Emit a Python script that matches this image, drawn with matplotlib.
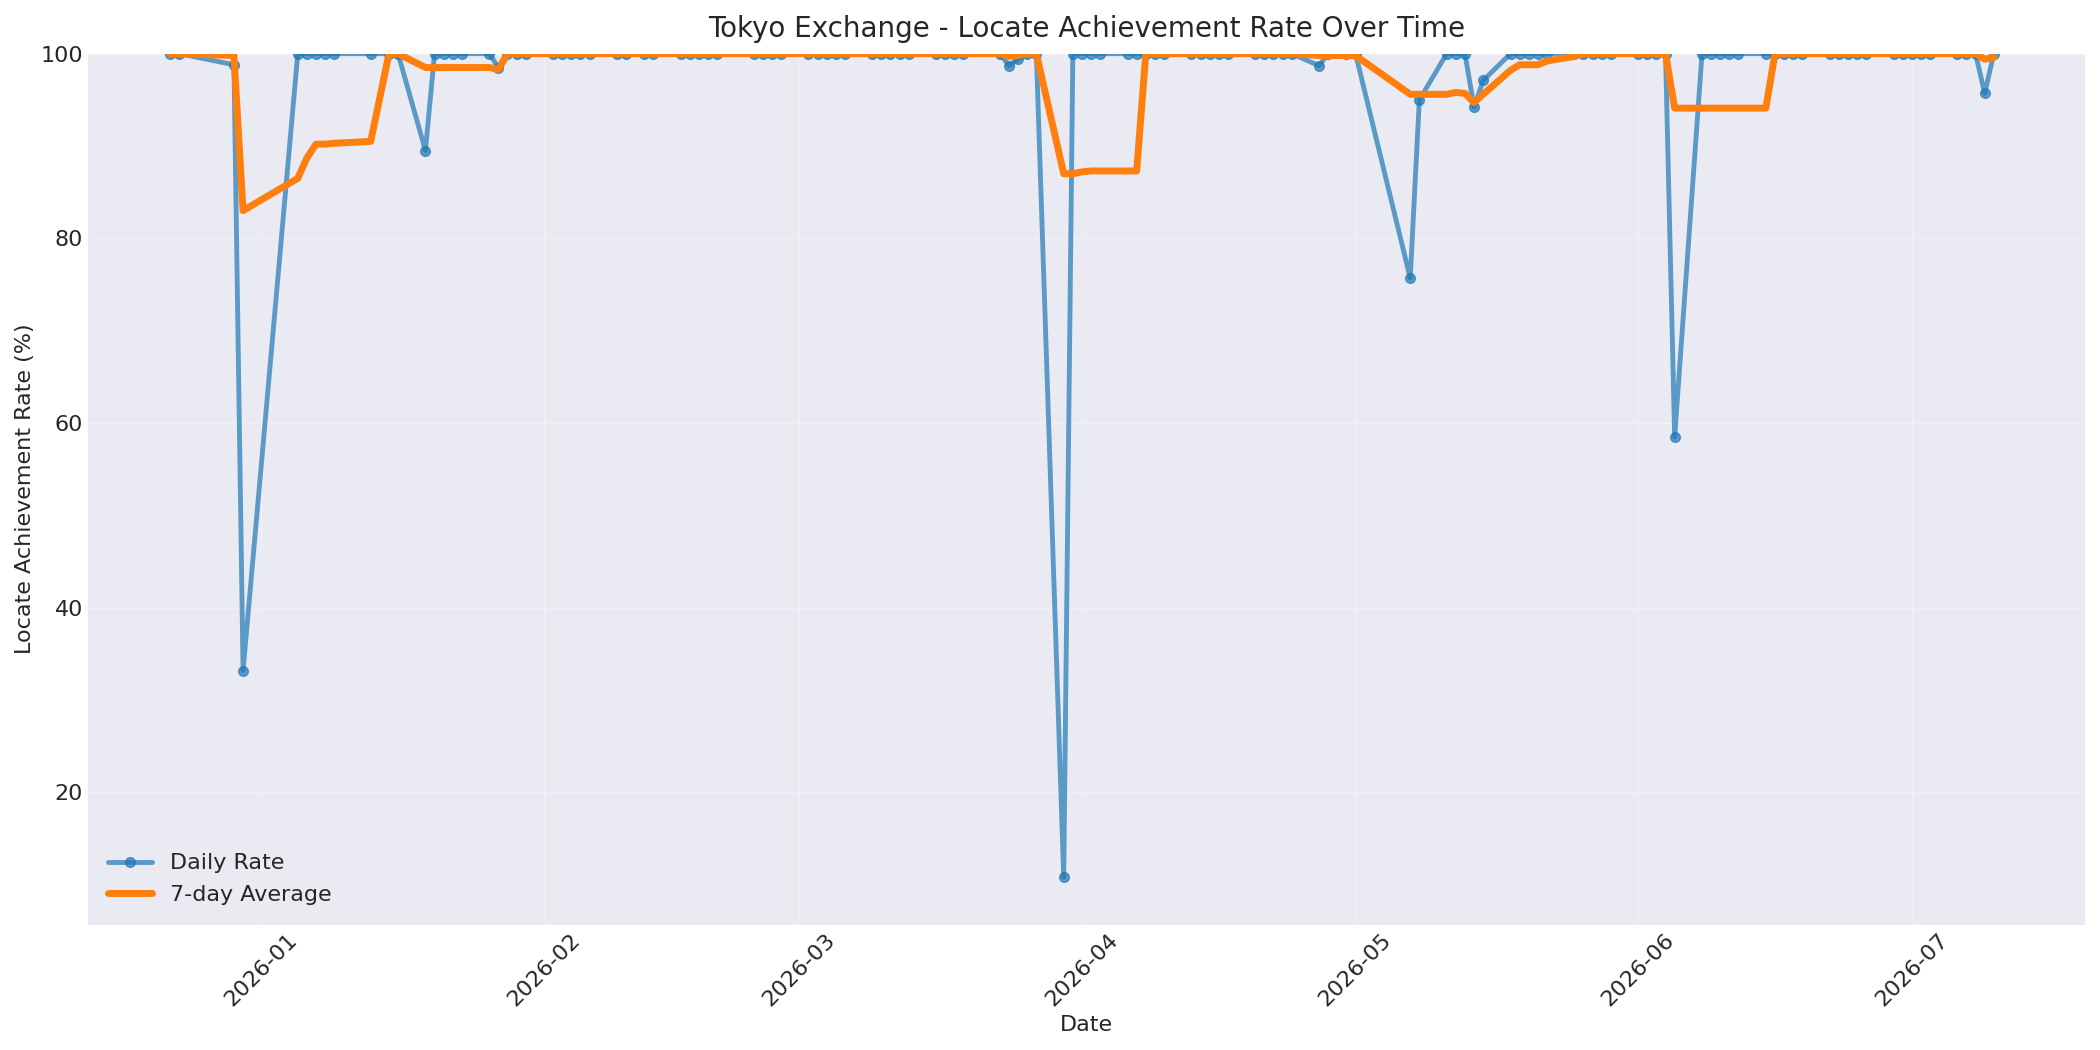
import matplotlib
matplotlib.use("Agg")
import matplotlib.pyplot as plt
import matplotlib.dates as mdates
import pandas as pd

plt.style.use("seaborn-v0_8-darkgrid")
plt.rcParams['font.family'] = ['DejaVu Sans']

start = "2025-12-22"
end = "2026-07-10"
holidays = ["2025-12-24", "2025-12-25", "2025-12-26", "2025-12-31", "2026-01-01", "2026-01-02",
            "2026-01-12", "2026-01-14", "2026-02-11", "2026-02-23", "2026-03-20",
            "2026-04-29", "2026-05-04", "2026-05-05", "2026-05-06"]

daily_dips = {"2025-12-29": 98.8, "2025-12-30": 33.2, "2026-01-19": 89.5, "2026-01-27": 98.5,
              "2026-03-24": 98.7, "2026-03-25": 99.4, "2026-03-30": 10.8, "2026-04-27": 98.7,
              "2026-05-07": 75.7, "2026-05-08": 95.0, "2026-05-14": 94.2, "2026-05-15": 97.1,
              "2026-06-05": 58.5, "2026-07-09": 95.7}

avg_dips = {"2025-12-29": 99.8, "2025-12-30": 83.0, "2026-01-05": 86.5, "2026-01-06": 88.7,
            "2026-01-07": 90.2, "2026-01-08": 90.2, "2026-01-09": 90.3, "2026-01-13": 90.5,
            "2026-01-19": 98.5, "2026-01-20": 98.5, "2026-01-21": 98.5, "2026-01-22": 98.5,
            "2026-01-23": 98.5, "2026-01-26": 98.5, "2026-01-27": 98.3,
            "2026-03-24": 99.7, "2026-03-25": 99.8,
            "2026-03-30": 87.0, "2026-03-31": 87.0, "2026-04-01": 87.2, "2026-04-02": 87.3,
            "2026-04-03": 87.3, "2026-04-06": 87.3, "2026-04-07": 87.3,
            "2026-04-27": 99.8, "2026-04-28": 99.8, "2026-04-30": 99.8, "2026-05-01": 99.8,
            "2026-05-07": 95.6, "2026-05-08": 95.6, "2026-05-11": 95.6, "2026-05-12": 95.8,
            "2026-05-13": 95.7, "2026-05-14": 94.7, "2026-05-15": 95.6, "2026-05-18": 98.2,
            "2026-05-19": 98.8, "2026-05-20": 98.8, "2026-05-21": 98.8, "2026-05-22": 99.2,
            "2026-05-25": 99.7,
            "2026-06-05": 94.1, "2026-06-08": 94.1, "2026-06-09": 94.1, "2026-06-10": 94.1,
            "2026-06-11": 94.1, "2026-06-12": 94.1, "2026-06-15": 94.1,
            "2026-07-09": 99.4, "2026-07-10": 99.6}

dates = [d for d in pd.bdate_range(start, end) if d.strftime("%Y-%m-%d") not in holidays]
keys = [d.strftime("%Y-%m-%d") for d in dates]
daily = [daily_dips.get(k, 100.0) for k in keys]
avg = [avg_dips.get(k, 100.0) for k in keys]

fig, ax = plt.subplots(figsize=(21, 10.5), dpi=100)
ax.plot(dates, daily, marker="o", markersize=7, linewidth=3.5, color="#1f77b4", alpha=0.7, label="Daily Rate")
ax.plot(dates, avg, linewidth=5, color="#ff7f0e", label="7-day Average")
ax.set_ylim(5.7, 100)
ax.set_xlim(pd.Timestamp("2025-12-13"), pd.Timestamp("2026-07-20"))
ax.xaxis.set_major_locator(mdates.MonthLocator())
ax.xaxis.set_major_formatter(mdates.DateFormatter("%Y-%m"))
plt.setp(ax.get_xticklabels(), rotation=45)
ax.tick_params(labelsize=16)
ax.grid(True, alpha=0.3)
ax.set_title("Tokyo Exchange - Locate Achievement Rate Over Time", fontsize=20, pad=12)
ax.set_xlabel("Date", fontsize=16)
ax.set_ylabel("Locate Achievement Rate (%)", fontsize=16)
ax.legend(loc="lower left", fontsize=16)
fig.tight_layout()
fig.savefig("out.png")
